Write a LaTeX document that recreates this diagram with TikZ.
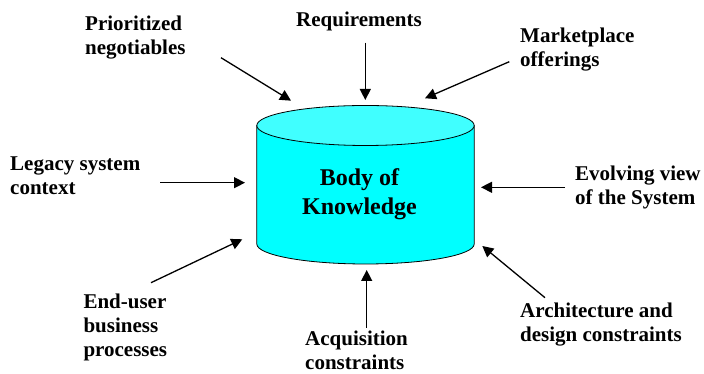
\documentclass[tikz,border=0pt]{standalone}
\usepackage{fontspec}
\setmainfont{Liberation Serif}
\usetikzlibrary{arrows.meta}
\definecolor{bodycyan}{RGB}{0,255,255}
\definecolor{topcyan}{RGB}{64,255,255}
\tikzstyle{source}=[inner sep=0pt, anchor=base west, align=left, font=\bfseries\fontsize{21}{24}\selectfont]
\tikzstyle{feed}=[->, line width=1.3pt]
\tikzstyle{body top}=[fill=topcyan, line width=.8pt]
\tikzstyle{body side}=[fill=bodycyan, line width=.8pt]

\begin{document}
\begin{tikzpicture}[>={Triangle[length=11pt,width=11pt]},x=1pt,y=1pt]
    \useasboundingbox (0,0) rectangle (704,374);

    % Body of knowledge
    \draw[body side] (256.8,248.5) -- (256.8,130) arc (180:360:108.7 and 20)
    -- (474.2,248.5);
    \draw[body top] (365.5,248.5) ellipse (108.7 and 20);
    \node[font=\bfseries\fontsize{24}{28.7}\selectfont, align=center] (bok)
    at (359.5,180) {Body of\\Knowledge};

    % Sources (anchored at the baseline of the last line)
    \node[source] (prio) at (85,319.7) {Prioritized\\negotiables};
    \node[source] (req) at (296,347.3) {Requirements};
    \node[source] (market) at (520,307.3) {Marketplace\\offerings};
    \node[source] (legacy) at (10,179) {Legacy system\\context};
    \node[source] (evolve) at (575,169) {Evolving view\\of the System};
    \node[source] (enduser) at (83.3,17.3) {End-user\\business\\processes};
    \node[source] (acq) at (305,4.5) {Acquisition\\constraints};
    \node[source] (arch) at (520,32.3) {Architecture and\\design constraints};

    % Arrow ends
    \coordinate (prio-t) at (221,316.3);    \coordinate (prio-h) at (291,273.3);
    \coordinate (req-t) at (365.3,331.3);   \coordinate (req-h) at (365.3,274);
    \coordinate (market-t) at (509.3,312.3); \coordinate (market-h) at (425,275.7);
    \coordinate (legacy-t) at (160,191.3);  \coordinate (legacy-h) at (245,191.3);
    \coordinate (evolve-t) at (565,186.7);  \coordinate (evolve-h) at (481,186.7);
    \coordinate (enduser-t) at (151,91.3);  \coordinate (enduser-h) at (242.3,134.7);
    \coordinate (acq-t) at (366.7,46);      \coordinate (acq-h) at (366.7,104);
    \coordinate (arch-t) at (545,76.3);     \coordinate (arch-h) at (482.3,128);

    % Arrows
    \foreach \s in {prio,req,market,legacy,evolve,enduser,acq,arch}
      \draw[feed] (\s-t) -- (\s-h);

\end{tikzpicture}
\end{document}
